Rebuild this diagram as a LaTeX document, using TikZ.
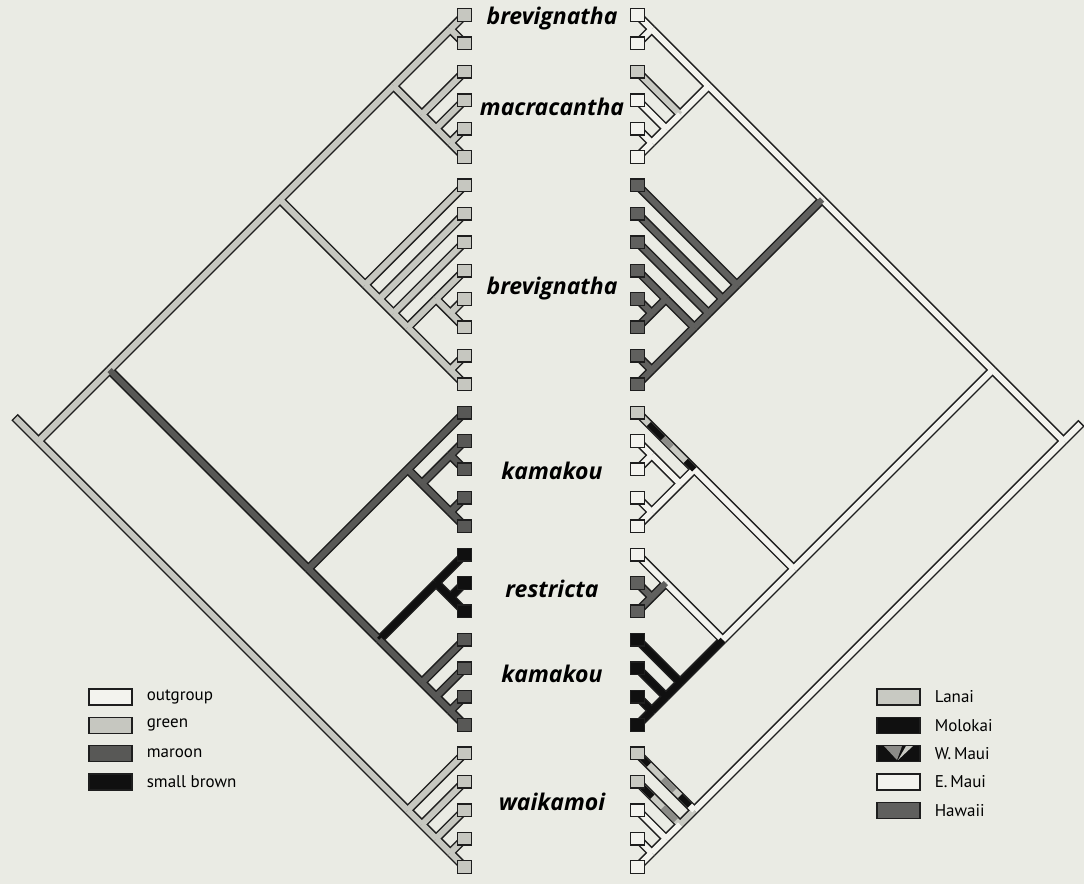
\documentclass[tikz,border=0pt]{standalone}
\usepackage{fontspec}
\setmainfont{PT Sans}
\newfontfamily\taxonfont{Open Sans}
\usetikzlibrary{calc}
\definecolor{paper}{RGB}{234,235,228}
\definecolor{grn}{RGB}{198,199,192}
\definecolor{mar}{RGB}{88,88,86}
\definecolor{sbr}{RGB}{16,16,16}
\definecolor{wht}{RGB}{243,243,238}
\definecolor{lan}{RGB}{200,201,194}
\definecolor{mol}{RGB}{16,16,16}
\definecolor{wmg}{RGB}{140,140,136}
\definecolor{haw}{RGB}{96,96,94}
\definecolor{ink}{RGB}{30,30,30}

\begin{document}
\begin{tikzpicture}[x=1pt,y=-1pt,
    tubeout/.style={line width=9pt, draw=ink},
    tubein/.style={line width=6pt},
    tipbox/.style={draw=ink, line width=1.4pt, minimum width=13.5pt,
                   minimum height=12.5pt, inner sep=0pt},
    taxon/.style={font=\taxonfont\fontsize{23}{25}\selectfont\bfseries\itshape},
    keybox/.style={draw=ink, line width=1.2pt, minimum width=43pt,
                   minimum height=16pt, inner sep=0pt},
    keytext/.style={font=\fontsize{17}{20}\selectfont, anchor=west, inner sep=0pt}
  ]
  % paper
  \fill[paper] (0,0) rectangle (1084,884);
  \useasboundingbox (0,0) rectangle (1084,884);

  % tips
  \foreach \i in {0,...,30} {
    \coordinate (Lt\i) at (464.5, {15+28.4*\i});
    \coordinate (Rt\i) at (637.5, {15+28.4*\i});
  }
  % clades (slanted, 45 degrees)
  \foreach \i/\j in {0/30,0/25,0/13,0/5,0/1,2/5,3/5,4/5,6/13,7/13,8/13,9/13,9/11,
                     10/11,12/13,14/25,14/18,15/18,15/16,17/18,19/25,19/21,20/21,
                     22/25,23/25,24/25,26/30,27/30,28/30,29/30} {
    \coordinate (Lc\i-\j) at ({464.5-14.2*(\j-\i)}, {15+14.2*(\i+\j)});
    \coordinate (Rc\i-\j) at ({637.5+14.2*(\j-\i)}, {15+14.2*(\i+\j)});
  }
  \coordinate (Lstem) at ($(Lc0-30)+(-24,-24)$);
  \coordinate (Rstem) at ($(Rc0-30)+(18,-18)$);

  % parent/child/left colour/right colour
  \def\edgelist{c0-30/c0-25/grn/wht, c0-30/c26-30/grn/wht, c0-25/c0-13/grn/wht,
    c0-25/c14-25/mar/wht, c0-13/c0-5/grn/wht, c0-13/c6-13/grn/haw,
    c0-5/c0-1/grn/wht, c0-5/c2-5/grn/wht, c0-1/t0/grn/wht, c0-1/t1/grn/wht,
    c2-5/t2/grn/lan, c2-5/c3-5/grn/wht, c3-5/t3/grn/wht, c3-5/c4-5/grn/wht,
    c4-5/t4/grn/wht, c4-5/t5/grn/wht,
    c6-13/t6/grn/haw, c6-13/c7-13/grn/haw, c7-13/t7/grn/haw, c7-13/c8-13/grn/haw,
    c8-13/t8/grn/haw, c8-13/c9-13/grn/haw, c9-13/c9-11/grn/haw, c9-13/c12-13/grn/haw,
    c9-11/t9/grn/haw, c9-11/c10-11/grn/haw, c10-11/t10/grn/haw, c10-11/t11/grn/haw,
    c12-13/t12/grn/haw, c12-13/t13/grn/haw,
    c14-25/c14-18/mar/wht, c14-25/c19-25/mar/wht, c14-18/t14/mar/lan,
    c14-18/c15-18/mar/wht, c15-18/c15-16/mar/wht, c15-18/c17-18/mar/wht,
    c15-16/t15/mar/wht, c15-16/t16/mar/wht, c17-18/t17/mar/wht, c17-18/t18/mar/wht,
    c19-25/c19-21/sbr/wht, c19-25/c22-25/mar/mol, c19-21/t19/sbr/wht,
    c19-21/c20-21/sbr/haw, c20-21/t20/sbr/haw, c20-21/t21/sbr/haw,
    c22-25/t22/mar/mol, c22-25/c23-25/mar/mol, c23-25/t23/mar/mol,
    c23-25/c24-25/mar/mol, c24-25/t24/mar/mol, c24-25/t25/mar/mol,
    c26-30/t26/grn/lan, c26-30/c27-30/grn/lan, c27-30/t27/grn/lan,
    c27-30/c28-30/grn/wht, c28-30/t28/grn/wht, c28-30/c29-30/grn/wht,
    c29-30/t29/grn/wht, c29-30/t30/grn/wht}

  % outlines first, then fills
  \draw[tubeout] (Lc0-30) -- (Lstem);
  \draw[tubeout] (Rc0-30) -- (Rstem);
  \foreach \pa/\ch/\lcol/\rcol in \edgelist {
    \draw[tubeout] (L\pa) -- (L\ch);
    \draw[tubeout] (R\pa) -- (R\ch);
  }
  \draw[tubein, draw=grn, shorten >=1.5pt] (Lc0-30) -- (Lstem);
  \draw[tubein, draw=wht, shorten >=1.5pt] (Rc0-30) -- (Rstem);
  \foreach \pa/\ch/\lcol/\rcol in \edgelist {
    \draw[tubein, draw=\lcol] (L\pa) -- (L\ch);
    \draw[tubein, draw=\rcol] (R\pa) -- (R\ch);
  }

  % W. Maui changes along branches
  \draw[tubein, draw=mol] (Rc14-18) -- ($(Rc14-18)!0.15!(Rt14)$);
  \draw[tubein, draw=wmg] ($(Rc14-18)!0.4!(Rt14)$) -- ($(Rc14-18)!0.55!(Rt14)$);
  \draw[tubein, draw=mol] ($(Rc14-18)!0.55!(Rt14)$) -- ($(Rc14-18)!0.8!(Rt14)$);
  \draw[tubein, draw=wht] (Rc26-30) -- ($(Rc26-30)!0.08!(Rt26)$);
  \draw[tubein, draw=mol] ($(Rc26-30)!0.08!(Rt26)$) -- ($(Rc26-30)!0.25!(Rt26)$);
  \draw[tubein, draw=wmg] ($(Rc26-30)!0.35!(Rt26)$) -- ($(Rc26-30)!0.55!(Rt26)$);
  \draw[tubein, draw=mol] ($(Rc26-30)!0.8!(Rt26)$) -- ($(Rc26-30)!0.97!(Rt26)$);
  \draw[tubein, draw=wmg] ($(Rc27-30)!0.1!(Rt27)$) -- ($(Rc27-30)!0.4!(Rt27)$);
  \draw[tubein, draw=mol] ($(Rc27-30)!0.65!(Rt27)$) -- ($(Rc27-30)!0.95!(Rt27)$);

  % tip boxes
  \foreach \i/\lcol/\rcol in {0/grn/wht,1/grn/wht,2/grn/lan,3/grn/wht,4/grn/wht,
      5/grn/wht,6/grn/haw,7/grn/haw,8/grn/haw,9/grn/haw,10/grn/haw,11/grn/haw,
      12/grn/haw,13/grn/haw,14/mar/lan,15/mar/wht,16/mar/wht,17/mar/wht,18/mar/wht,
      19/sbr/wht,20/sbr/haw,21/sbr/haw,22/mar/mol,23/mar/mol,24/mar/mol,25/mar/mol,
      26/grn/lan,27/grn/lan,28/grn/wht,29/grn/wht,30/grn/wht} {
    \node[tipbox, fill=\lcol] (Lsq\i) at (Lt\i) {};
    \node[tipbox, fill=\rcol] (Rsq\i) at (Rt\i) {};
  }

  % taxa
  \node[taxon] (labBrevA) at (552,19)  {brevignatha};
  \node[taxon] (labMacr)  at (552,107) {macracantha};
  \node[taxon] (labBrevB) at (552,289) {brevignatha};
  \node[taxon] (labKamA)  at (552,471) {kamakou};
  \node[taxon] (labRest)  at (552,589) {restricta};
  \node[taxon] (labKamB)  at (552,674) {kamakou};
  \node[taxon] (labWaik)  at (552,802) {waikamoi};

  % keys
  \foreach \k/\col/\txt in {0/wht/outgroup, 1/grn/green, 2/mar/maroon, 3/sbr/small brown} {
    \node[keybox, fill=\col] (keyL\k) at (110.5, {697+28.3*\k}) {};
    \node[keytext] (keyLt\k) at ([xshift=14pt]keyL\k.east) {\txt};
  }
  \foreach \k/\col/\txt in {0/lan/Lanai, 1/mol/Molokai, 2/mol/W.\,Maui, 3/wht/E.\,Maui, 4/haw/Hawaii} {
    \node[keybox, fill=\col] (keyR\k) at (898.5, {697+28.3*\k}) {};
    \node[keytext] (keyRt\k) at ([xshift=14pt]keyR\k.east) {\txt};
  }
  \fill[wmg] (884,746) -- (902,746) -- (897,760) -- cycle;
  \fill[lan] (898,760) -- (906,746) -- (913,746) -- cycle;
\end{tikzpicture}
\end{document}
